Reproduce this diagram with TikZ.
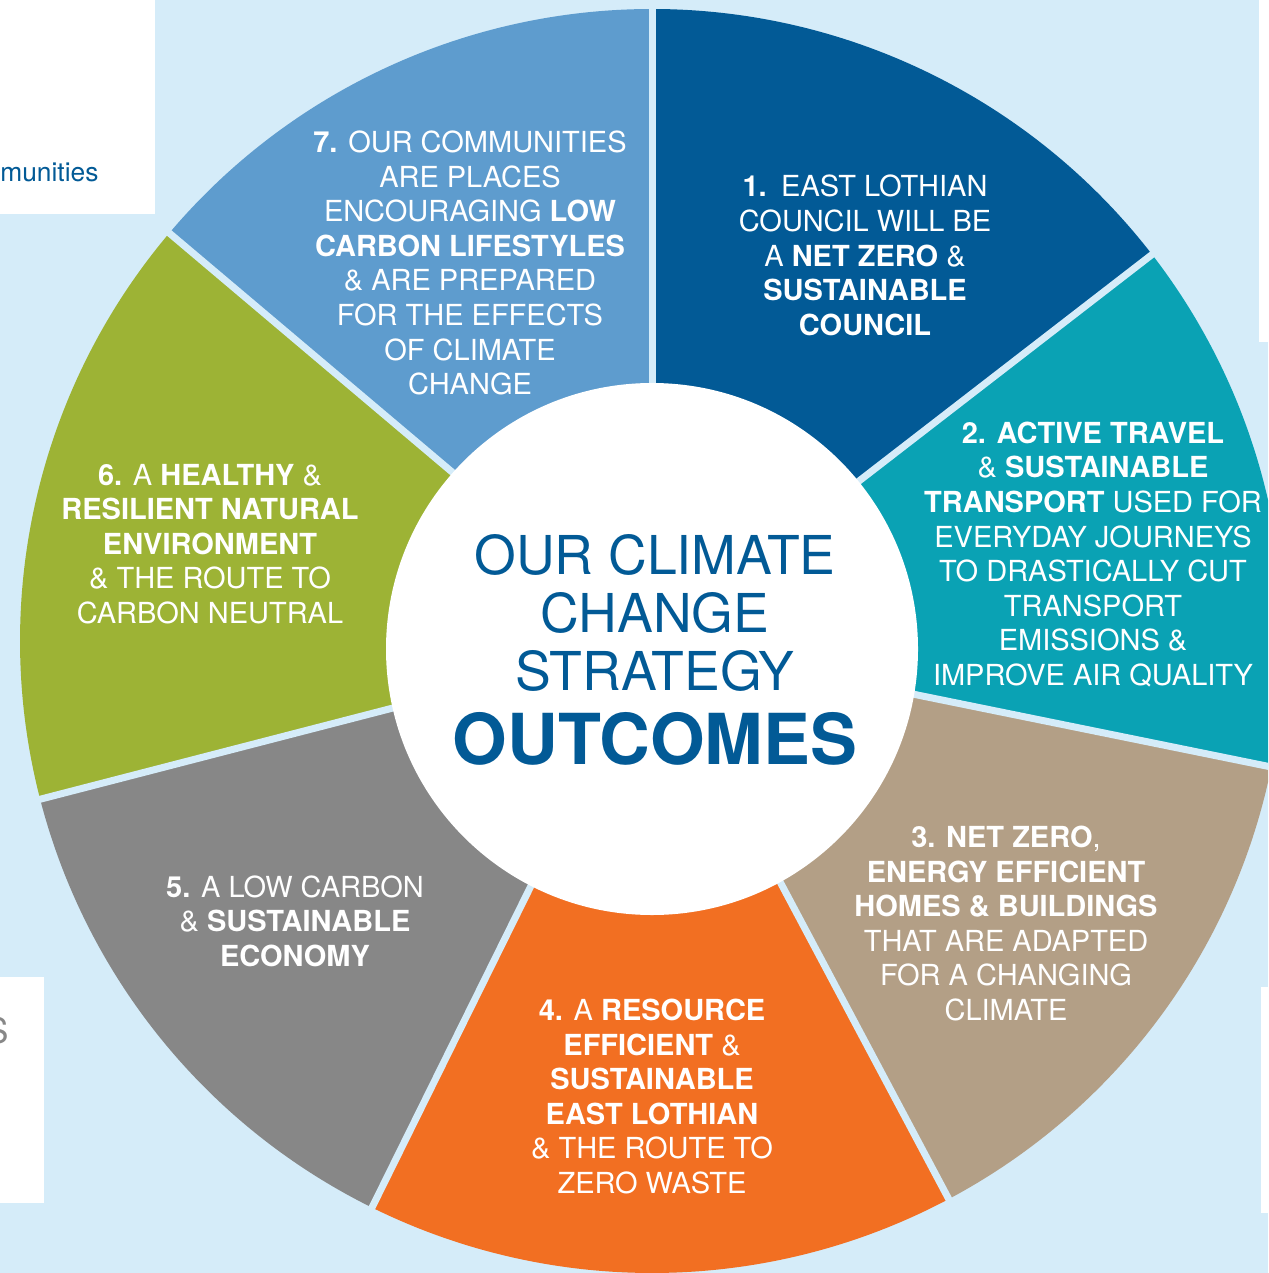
\documentclass[tikz,border=0pt]{standalone}
\usepackage{fontspec}
\setmainfont{TeX Gyre Heros}
\usepackage{tikz}
\usetikzlibrary{positioning}
\usepackage{color}

\definecolor{paleblue}{HTML}{D5ECF9}
\definecolor{councilblue}{HTML}{025A96}
\definecolor{travelteal}{HTML}{0AA2B4}
\definecolor{hometan}{HTML}{B39F86}
\definecolor{wasteorange}{HTML}{F26F22}
\definecolor{economygray}{HTML}{878787}
\definecolor{naturegreen}{HTML}{9DB335}
\definecolor{communityblue}{HTML}{5E9CCE}

\tikzset{
  wedgetext/.style={text=white,align=center,inner sep=0pt,
    font=\fontsize{16.5}{19.7}\selectfont},
  gapline/.style={draw=paleblue,line width=0.14cm},
}

\begin{document}
\begin{tikzpicture}[x=0.02cm,y=0.02cm]

\clip (0,0) rectangle (1268,-1273);
\fill[paleblue] (0,0) rectangle (1268,-1273);
\fill[white] (0,0) rectangle (155,-214);
\fill[white] (0,-977) rectangle (44,-1203);
\fill[white] (1259,0) rectangle (1268,-342);
\fill[white] (1261,-987) rectangle (1268,-1213);

\node[anchor=base west,inner sep=0pt,text=councilblue,font=\fontsize{15}{18}\selectfont] (W1) at (0,-182) {munities};
\node[anchor=base west,inner sep=0pt,text=economygray,font=\fontsize{20}{24}\selectfont] (W2) at (-15,-1043) {S};

\coordinate (O) at (652,-641);

\fill[councilblue] (O) -- ++(90:632) arc[start angle=90,end angle=37.7,radius=632] -- cycle;
\fill[travelteal] (O) -- ++(37.7:632) arc[start angle=37.7,end angle=-11.5,radius=632] -- cycle;
\fill[hometan] (O) -- ++(-11.5:632) arc[start angle=-11.5,end angle=-62,radius=632] -- cycle;
\fill[wasteorange] (O) -- ++(-62:632) arc[start angle=-62,end angle=-116.3,radius=632] -- cycle;
\fill[economygray] (O) -- ++(-116.3:632) arc[start angle=-116.3,end angle=-165.5,radius=632] -- cycle;
\fill[naturegreen] (O) -- ++(-165.5:632) arc[start angle=-165.5,end angle=-220.2,radius=632] -- cycle;
\fill[communityblue] (O) -- ++(-220.2:632) arc[start angle=-220.2,end angle=-270,radius=632] -- cycle;

\draw[gapline] (O) -- ++(90:634);
\draw[gapline] (O) -- ++(37.7:634);
\draw[gapline] (O) -- ++(-11.5:634);
\draw[gapline] (O) -- ++(-62:634);
\draw[gapline] (O) -- ++(-116.3:634);
\draw[gapline] (O) -- ++(-165.5:634);
\draw[gapline] (O) -- ++(-220.2:634);

\fill[white] (652,-649) circle[radius=266];

\node[inner sep=0pt,align=center,text=councilblue,font=\fontsize{30.5}{32.8}\selectfont] (T) at (655,-613)
  {OUR CLIMATE\\CHANGE\\STRATEGY};
\node[inner sep=0pt,text=councilblue,font=\fontsize{40}{42}\selectfont\bfseries] (U) at (655,-739) {OUTCOMES};

\node[wedgetext] (O1) at (865,-255.5)
  {\textbf{1.}\enspace EAST LOTHIAN\\COUNCIL WILL BE\\A \textbf{NET ZERO} \&\\\textbf{SUSTAINABLE}\\\textbf{COUNCIL}};
\node[wedgetext] (O2) at (1093,-554.5)
  {\textbf{2. ACTIVE TRAVEL}\\\& \textbf{SUSTAINABLE}\\\textbf{TRANSPORT} USED FOR\\EVERYDAY JOURNEYS\\TO DRASTICALLY CUT\\TRANSPORT\\EMISSIONS \&\\IMPROVE AIR QUALITY};
\node[wedgetext] (O3) at (1006,-923.5)
  {\textbf{3. NET ZERO},\\\textbf{ENERGY EFFICIENT}\\\textbf{HOMES \& BUILDINGS}\\THAT ARE ADAPTED\\FOR A CHANGING\\CLIMATE};
\node[wedgetext] (O4) at (652,-1096.5)
  {\textbf{4.} A \textbf{RESOURCE}\\\textbf{EFFICIENT} \&\\\textbf{SUSTAINABLE}\\\textbf{EAST LOTHIAN}\\\& THE ROUTE TO\\ZERO WASTE};
\node[wedgetext] (O5) at (295,-921)
  {\textbf{5.} A LOW CARBON\\\& \textbf{SUSTAINABLE}\\\textbf{ECONOMY}};
\node[wedgetext] (O6) at (210,-544)
  {\textbf{6.} A \textbf{HEALTHY} \&\\\textbf{RESILIENT NATURAL}\\\textbf{ENVIRONMENT}\\\& THE ROUTE TO\\CARBON NEUTRAL};
\node[wedgetext] (O7) at (470,-263)
  {\textbf{7.} OUR COMMUNITIES\\ARE PLACES\\ENCOURAGING \textbf{LOW}\\\textbf{CARBON LIFESTYLES}\\\& ARE PREPARED\\FOR THE EFFECTS\\OF CLIMATE\\CHANGE};

\end{tikzpicture}
\end{document}
